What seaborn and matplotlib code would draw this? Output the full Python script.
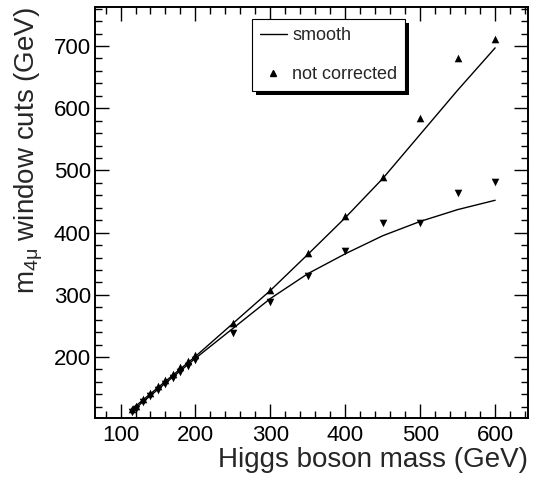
import numpy as np
import pandas as pd
import matplotlib
matplotlib.use("Agg")
import matplotlib.pyplot as plt
from matplotlib.ticker import MultipleLocator
from matplotlib.lines import Line2D
from matplotlib.patches import Rectangle
import seaborn as sns

# ---------------- data ----------------
mass = [115, 120, 130, 140, 150, 160, 170, 180, 190, 200, 250, 300, 350, 400, 450, 500, 550, 600]

upper_pts = [117, 122, 132, 143, 153, 163, 173, 184, 194, 203, 254, 308, 367, 426, 489, 584, 681, 712]
lower_pts = [112, 117, 127, 137, 147, 157, 166, 176, 186, 196, 239, 289, 330, 371, 415, 415, 464, 482]

upper_smooth = [116, 121, 131, 141, 151, 161, 171, 181, 191, 201, 254, 307, 365, 424, 487, 558, 629, 697]
lower_smooth = [113, 118, 128, 138, 148, 158, 168, 178, 188, 198, 246, 294, 334, 366, 395, 418, 437, 452]

df = pd.DataFrame({"mass": mass, "up": upper_pts, "down": lower_pts,
                   "up_s": upper_smooth, "down_s": lower_smooth})

# ---------------- style ----------------
sns.set_style("ticks")
plt.rcParams["font.family"] = ["Liberation Sans", "DejaVu Sans"]
plt.rcParams["mathtext.fontset"] = "custom"
plt.rcParams["mathtext.rm"] = "Liberation Sans"
plt.rcParams["mathtext.it"] = "Liberation Sans"

fig = plt.figure(figsize=(5.40, 4.78), dpi=100)
ax = fig.add_axes([0.176, 0.1255, 0.802, 0.859])

sns.lineplot(data=df, x="mass", y="up_s", color="black", lw=1.0, ax=ax)
sns.lineplot(data=df, x="mass", y="down_s", color="black", lw=1.0, ax=ax)
sns.scatterplot(data=df, x="mass", y="up", marker="^", color="black",
                s=30, edgecolor="black", linewidth=0, ax=ax, zorder=3)
sns.scatterplot(data=df, x="mass", y="down", marker="v", color="black",
                s=30, edgecolor="black", linewidth=0, ax=ax, zorder=3)

ax.set_xlim(66, 644)
ax.set_ylim(102, 762)

ax.xaxis.set_major_locator(MultipleLocator(100))
ax.xaxis.set_minor_locator(MultipleLocator(20))
ax.yaxis.set_major_locator(MultipleLocator(100))
ax.yaxis.set_minor_locator(MultipleLocator(20))
ax.set_yticks([200, 300, 400, 500, 600, 700])

ax.tick_params(which="both", direction="in", top=True, right=True,
               width=1.0, colors="black", labelsize=16)
ax.tick_params(which="major", length=10)
ax.tick_params(axis="x", which="major", pad=5)
ax.tick_params(axis="y", which="major", pad=3)
ax.tick_params(which="minor", length=5)
for sp in ax.spines.values():
    sp.set_linewidth(1.4)
    sp.set_color("black")

ax.set_xlabel("Higgs boson mass (GeV)", fontsize=20, loc="right", labelpad=1)
ax.set_ylabel(r"m$_{\mathrm{4μ}}$ window cuts (GeV)", fontsize=20, loc="top", labelpad=6)

# ---------------- legend ----------------
handles = [Line2D([], [], color="black", lw=1.0),
           Line2D([], [], color="black", marker="^", ls="none", markersize=4)]
leg = ax.legend(handles, ["smooth", "not corrected"], loc="upper left",
                bbox_to_anchor=(0.362, 0.971, 0.354, 0.0), mode="expand",
                borderaxespad=0, fontsize=13, labelspacing=1.2,
                handlelength=1.5, handletextpad=0.3, borderpad=0.45,
                fancybox=False, framealpha=1, edgecolor="black")
leg.get_frame().set_linewidth(0.8)
leg.set_zorder(5)

fig.canvas.draw()
bb = leg.get_frame().get_window_extent().transformed(ax.transAxes.inverted())
shadow = Rectangle((bb.x0 + 0.009, bb.y0 - 0.0097), bb.width, bb.height,
                   transform=ax.transAxes, facecolor="black", edgecolor="none",
                   zorder=4, clip_on=False)
ax.add_patch(shadow)

fig.savefig("out.png", dpi=100)
